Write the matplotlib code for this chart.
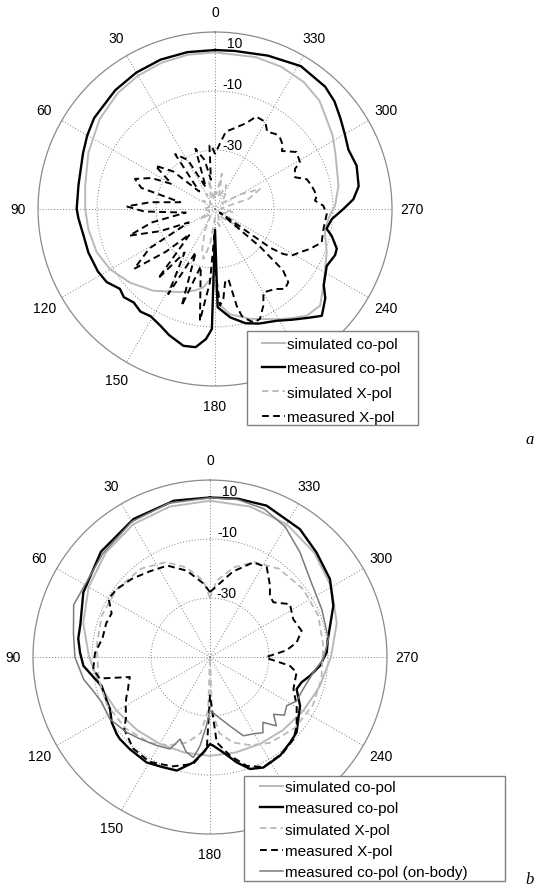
import numpy as np
import matplotlib
matplotlib.use('Agg')
from matplotlib import pyplot as plt
from matplotlib.patches import Rectangle

plt.rcParams['font.family'] = ['Liberation Sans', 'DejaVu Sans']

#-------------------------------------------------
### data read off the figure : angle (deg) and level (dB)

# panel a
a_sim_co_deg = [0, 10, 20, 30, 40, 52, 66, 80, 90, 99, 110, 120, 131, 143, 157, 166, 171.5, 176, 178, 180,
                182, 188, 197.7, 209, 215, 220.7, 227.4, 234.7, 241.4, 248.8, 258, 265, 271.6, 280.7, 295,
                302, 309, 316, 325, 335, 345, 360]
a_sim_co_db  = [3.1, 3.1, 2.8, 2.2, 1.3, -0.4, -3.0, -5.3, -6.0, -6.5, -7.3, -9.0, -11.9, -15.3, -19.4, -21.5,
                -23.1, -26.2, -27, -24, -18, -14, -10.9, -7.3, -4.8, -2.3, -1.6, -5.0, -7.5, -9.4, -11.9, -11.5,
                -9.3, -7.4, -5.0, -3.0, -1.4, 1.0, 2.5, 3.2, 3.3, 3.1]

a_meas_co_deg = [0, 10, 20, 30, 40, 53, 60, 67, 80, 90, 94, 101, 109, 118, 124, 130, 134, 139, 144, 149, 155,
                 160, 167, 172, 176, 178.5, 180, 181.5, 188, 195, 201, 209, 215, 221, 225, 231, 235, 243, 249,
                 252, 257, 260, 265, 270, 274, 279, 287, 294, 300, 306, 312, 318, 329, 341, 353, 360]
a_meas_co_db  = [3.9, 4.0, 3.9, 3.4, 2.6, 1.3, 0.0, -1.4, -3.0, -3.1, -3.6, -4.5, -4.6, -5.0, -5.7, -7.9, -7.0,
                 -8.0, -7.0, -7.6, -6.3, -4.5, -2.4, -2.7, -5.8, -9.3, -43, -16.7, -12.9, -9.9, -8.4, -6.7, -4.2,
                 -1.2, 1.2, -1.9, -5.0, -7.5, -6.4, -6.6, -9.4, -11.6, -10.3, -6.5, -3.0, -0.7, 0.2, -0.5, 0.8,
                 2.5, 4.5, 5.8, 6.5, 5.0, 4.0, 3.9]

a_sim_x_deg = [0, 5, 12, 20, 30, 40, 55, 70, 90, 110, 125, 140, 155, 162, 167, 172, 180, 195, 210, 225, 236,
               245, 260, 275, 287, 294, 300, 312, 325, 335, 342, 349, 355, 360]
a_sim_x_db  = [-44, -47, -40, -46, -44, -48, -45, -48, -46, -48, -44, -48, -42, -36, -32.6, -38, -47, -44, -48,
               -44, -39.8, -47, -44, -48, -38, -33.3, -40, -47, -44, -41, -46, -37.8, -45, -44]

a_meas_x_deg = [0, 3, 5, 8, 12, 18, 23, 29, 36, 42, 48, 54, 60, 64, 69.4, 74, 79, 84, 88.3, 92, 97, 102,
                107.3, 112, 117, 121, 126.5, 131, 135, 140.7, 145, 151.2, 156, 161, 166, 172.3, 176, 179, 180,
                183, 185.3, 187.8, 190.8, 192.6, 194, 196, 198.7, 202.2, 206.6, 210.1, 216.9, 221.2, 225, 228,
                230, 233.5, 235, 236.6, 238.7, 243, 247.2, 252.6, 258.7, 263, 267.4, 271.8, 274.8, 277.5,
                283.6, 288, 291.6, 296.6, 299, 305, 311, 313, 318, 321, 326, 330, 336, 340, 347, 352, 356, 360]
a_meas_x_db  = [-31.4, -28.5, -28.4, -40, -33, -28.5, -42, -31, -27, -42, -31, -25, -33, -26, -21, -24, -38,
                -28, -20, -26, -40, -28, -19.6, -30, -40, -24, -15.9, -28, -38, -19.6, -32, -17.1, -34, -15.3,
                -30, -11.8, -25, -42, -30, -17.2, -19.4, -24.9, -25.8, -16.4, -12.7, -11.2, -9.4, -9.7, -13.4,
                -17.3, -16.1, -14, -14.9, -19, -30, -48, -27, -22.3, -19.6, -17.7, -15.1, -12.1, -12.6, -12.5,
                -12.1, -13.3, -16, -15.2, -16.3, -17.3, -20.8, -19.7, -17.1, -16.3, -20, -18.5, -17.2, -17.3,
                -18.4, -15.9, -15.7, -19, -22, -23.5, -28, -31.4]

# panel b
b_sim_co_deg = [0, 15, 30, 45, 60, 75, 90, 105, 120, 135, 150, 165, 180, 195, 210, 225, 240, 255, 270, 285,
                300, 315, 330, 345, 360]
b_sim_co_db  = [3.0, 2.8, 2.0, 0.0, -2.5, -5.5, -9.0, -11.5, -13.5, -15, -16, -16.5, -16.5, -16.5, -16, -15,
                -13.5, -11.5, -9.0, -5.5, -2.5, 0.0, 2.0, 2.8, 3.0]

b_meas_co_deg = [0, 13, 29, 46, 63, 76, 82, 88, 94, 100, 105, 112, 117.5, 123.6, 129.5, 132.3, 139, 149, 157,
                 163.7, 171, 176, 180, 182.2, 188, 194.2, 199.7, 205.8, 215.4, 223.2, 229, 234.9, 241.6, 249.7,
                 254.6, 259.4, 265.5, 272.3, 279, 292.6, 303, 314.5, 324.9, 339.5, 350, 360]
b_meas_co_db  = [4.1, 4.4, 3.5, 1.4, -1.8, -4.7, -4.9, -5.9, -7.0, -10, -12, -12, -11.8, -10, -9.0, -8.7, -8.6,
                 -8.3, -9.4, -9.9, -13.8, -17.6, -20.5, -19.9, -17.3, -13.2, -9.7, -8.4, -9.0, -10.3, -11.1,
                 -13.4, -15.3, -18.7, -17.8, -15.5, -12.6, -10.4, -9.5, -4.7, -1.5, 0.6, 3.0, 4.8, 4.5, 4.1]

b_sim_x_deg = [0, 5, 15, 25, 38, 54, 69, 84, 101, 115, 130, 145, 155, 165, 173, 178, 180, 182, 187, 195, 205,
               215, 230, 245, 259, 276, 291, 306, 322, 335, 345, 355, 360]
b_sim_x_db  = [-30, -24, -18.5, -14.5, -12, -10.9, -10.7, -11.4, -11.5, -11.5, -12.5, -14.5, -17, -20, -24,
               -32, -50, -32, -24, -20, -17, -14.5, -12.5, -11.5, -11.5, -11.4, -10.7, -10.9, -12, -14.5, -18.5,
               -24, -30]

b_meas_x_deg = [0, 5, 15, 25, 35, 45, 54, 60, 66, 72, 80, 88, 96, 101, 104, 108, 112, 116, 120, 126, 130, 140,
                150, 161, 171, 178, 180, 184.5, 191.5, 198.6, 206, 217.6, 225.5, 231.6, 240.7, 249, 260, 263.8,
                268, 270, 275, 279.6, 286, 294.5, 303.5, 310.8, 315.6, 319.9, 327.7, 335.4, 345, 355, 360]
b_meas_x_db  = [-28, -25, -19.7, -15.8, -14.5, -12.5, -10.9, -10.3, -13.5, -13.0, -13, -11, -10.2, -11.9, -22,
                -21, -20, -18.4, -17, -14.8, -12, -9.5, -9, -10.8, -13.3, -18.8, -37, -21, -15.9, -11.1, -8.5,
                -9.2, -10.3, -12.5, -16.3, -19.7, -20.2, -22.8, -29.7, -31, -24, -20.2, -17.7, -19, -17.5,
                -21.6, -21, -18.4, -14, -14.7, -20, -26, -28]

b_body_deg = [0, 15, 30, 46, 58, 69, 80, 90, 100, 107, 112.7, 121.8, 132, 139.5, 149, 156.5, 160, 166, 170.6,
              173.6, 177, 180, 186.5, 196, 203, 210, 215, 219, 224, 228, 232, 237.6, 243, 251, 261.6, 269,
              278.6, 293, 308, 319.3, 330, 340, 350, 360]
b_body_db  = [4.0, 4.0, 3.0, 0.5, -1.0, -0.5, -3.0, -4.2, -6.5, -9, -10.2, -10.1, -11.9, -13.5, -15, -16, -20.4,
              -16.8, -15.5, -19.7, -26.7, -32, -30, -25.7, -21, -20, -18.7, -21.5, -17.6, -21, -18, -19.2,
              -17.1, -16.6, -14.6, -11.6, -9.4, -8.8, -7.0, -3.2, 1.0, 3.5, 4.2, 4.0]

angle_ticks  = list(range(0, 360, 30))
angle_labels = ['0', '30', '60', '90', '120', '150', '180', '', '240', '270', '300', '330']  # 210 sits under the legend
ring_ticks   = [-30, -10, 10]
ring_labels  = ['-30', '-10', '10']
r_min, r_max = -50, 10

#-------------------------------------------------

LIGHT = '#b9b9b9'
MID   = '#7a7a7a'
GRID  = '#7f7f7f'
W, H  = 547., 895.

def setup( ax ):
    ax.set_theta_zero_location('N')
    ax.set_theta_direction(1)
    ax.set_ylim(r_min, r_max)
    ax.set_yticks(ring_ticks[:-1])
    ax.set_yticklabels([])
    ax.set_thetagrids(angle_ticks, angle_labels, fontsize=10)
    ax.tick_params(axis='x', pad=4)
    ax.grid(True, linestyle=(0, (1, 2)), color=GRID, linewidth=0.7)
    ax.spines['polar'].set_color('#8a8a8a')
    ax.spines['polar'].set_linewidth(0.9)
    # ring labels, placed just beside the 0 deg spoke
    offsets = [5, 7, -11]
    for val, lab, dy in zip(ring_ticks, ring_labels, offsets):
        ax.annotate(lab, xy=(0, val), xytext=(27, dy), textcoords='offset pixels',
                    ha='right', va='center', fontsize=10)

def trace( ax, deg, db, **kw ):
    return ax.plot(np.deg2rad(deg), db, **kw)[0]

def legend_box( handles, box, handle_x, first_top, spacing ):
    ### matlab style legend : plain grey frame, wide side margins
    x0, y0, x1, y1 = box
    fig.patches.append(Rectangle((x0/W, 1-y1/H), (x1-x0)/W, (y1-y0)/H, transform=fig.transFigure,
                                 facecolor='white', edgecolor='#808080', linewidth=1.0, zorder=4))
    fig.legend(handles=handles, loc='upper left', bbox_to_anchor=(handle_x/W, 1-first_top/H),
               frameon=False, borderpad=0, borderaxespad=0, fontsize=11, handlelength=1.5,
               handletextpad=0.15, labelspacing=spacing)

fig = plt.figure(figsize=(5.47, 8.95), dpi=100)

axa = fig.add_axes([0.0695, 0.5676, 0.6472, 0.3955], projection='polar')
axb = fig.add_axes([0.0603, 0.0670, 0.6472, 0.3955], projection='polar')

dash = (0, (3.5, 2.2))

for ax in (axa, axb):
    setup(ax)

h = []
h.append(trace(axa, a_sim_co_deg, a_sim_co_db, color=LIGHT, lw=1.4, label='simulated co-pol'))
h.append(trace(axa, a_meas_co_deg, a_meas_co_db, color='black', lw=1.7, label='measured co-pol'))
h.append(trace(axa, a_sim_x_deg, a_sim_x_db, color=LIGHT, lw=1.3, ls=dash, label='simulated X-pol'))
h.append(trace(axa, a_meas_x_deg, a_meas_x_db, color='black', lw=1.4, ls=dash, label='measured X-pol'))
legend_box(h, (247, 332, 418, 426), 262, 338, 0.68)

h = []
h.append(trace(axb, b_sim_co_deg, b_sim_co_db, color=LIGHT, lw=1.4, label='simulated co-pol'))
h.append(trace(axb, b_meas_co_deg, b_meas_co_db, color='black', lw=1.7, label='measured co-pol'))
h.append(trace(axb, b_sim_x_deg, b_sim_x_db, color=LIGHT, lw=1.3, ls=dash, label='simulated X-pol'))
h.append(trace(axb, b_meas_x_deg, b_meas_x_db, color='black', lw=1.4, ls=dash, label='measured X-pol'))
h.append(trace(axb, b_body_deg, b_body_db, color=MID, lw=1.1, label='measured co-pol (on-body)'))
legend_box(h, (244, 777, 505, 882), 260, 781, 0.48)

fig.text(0.969, 0.508, 'a', family='Liberation Serif', style='italic', fontsize=12, ha='center', va='center')
fig.text(0.969, 0.017, 'b', family='Liberation Serif', style='italic', fontsize=12, ha='center', va='center')

fig.savefig('out.png', dpi=100)
plt.close(fig)
